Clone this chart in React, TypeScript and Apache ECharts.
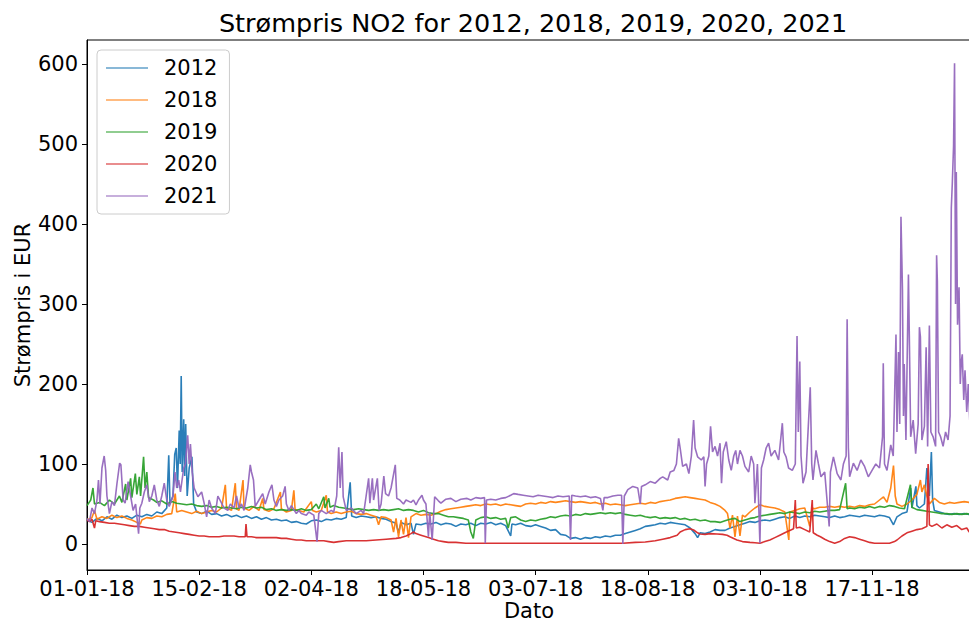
import React, { useEffect, useRef } from "react";
import * as echarts from "echarts";

const TITLE = "Strømpris NO2 for 2012, 2018, 2019, 2020, 2021";
const X_NAME = "Dato";
const Y_NAME = "Strømpris i EUR";
const seriesNames = ["2012", "2018", "2019", "2020", "2021"];
const seriesColors = ["#1f77b4", "#ff7f0e", "#2ca02c", "#d62728", "#9467bd"];
const xTickPos = [0, 45, 90, 135, 180, 225, 270, 315];
const xTickLabels = ["01-01-18", "15-02-18", "02-04-18", "18-05-18", "03-07-18", "18-08-18", "03-10-18", "17-11-18"];
const yTicks = [0, 100, 200, 300, 400, 500, 600];

const s2012 = [[0,30],[2,27],[4,32],[6,29],[8,34],[10,31],[12,36],[14,33],[16,35],[18,32],[20,36],[22,34],[24,37],[26,35],[28,40],[30,38],[32,45],[32.8,111],[33.3,50],[34.5,60],[35.2,112],[35.8,120],[36.3,70],[37,142],[37.4,100],[37.8,210],[38.2,90],[38.8,156],[39.2,85],[39.6,150],[40.2,60],[41,95],[42.1,109],[42.8,50],[44,40],[46,38],[48,41],[50,37],[52,38],[54,35],[56,37],[58,34],[60,36],[62,33],[64,35],[66,32],[68,34],[70,31],[72,33],[74,30],[76,31],[78,29],[80,30],[82,27],[84,28],[86,26],[88,25],[90,29],[92,30],[94,28],[96,31],[98,30],[100,32],[102,31],[104,33],[105.6,77],[106.2,35],[108,33],[110,35],[112,34],[114,33],[116,34],[118,32],[120,31],[122,28],[124,26],[125,14],[126,27],[128,24],[130,26],[131,12],[132,25],[134,24],[136,26],[138,25],[140,27],[142,24],[144,26],[146,25],[148,22],[150,25],[152,24],[154,26],[156,23],[158,26],[160,25],[162,27],[164,24],[166,26],[168,23],[170,10],[170.5,25],[172,24],[174,26],[176,23],[178,22],[180,24],[182,22],[184,20],[186,17],[188,18],[190,12],[192,11],[194,7],[196,8],[198,6],[200,8],[202,7],[204,9],[206,8],[208,10],[210,9],[212,11],[214,11],[216,13],[218,15],[220,17],[222,19],[224,22],[226,23],[228,24],[230,26],[232,25],[234,27],[236,26],[238,25],[240,24],[242,20],[244,13],[245,8],[246,14],[248,13],[250,15],[252,18],[254,17],[256,17],[258,20],[260,22],[262,24],[264,26],[266,28],[268,27],[270,29],[272,30],[274,29],[276,31],[278,33],[280,34],[282,32],[284,35],[286,33],[288,35],[290,34],[292,36],[294,35],[296,34],[298,33],[300,35],[302,33],[304,34],[306,36],[308,35],[310,34],[312,36],[314,35],[316,34],[318,36],[320,35],[322,33],[323.6,24],[325,34],[327,38],[329,40],[330.5,70],[331,45],[332.6,72],[333,48],[334,45],[336,50],[337,95],[338,60],[338.8,115],[339.3,55],[340,42],[342,40],[344,38],[346,37],[348,38],[350,37],[352,38],[354,37],[356,38]];

const s2018 = [[0,30],[2,33],[3,42],[4,31],[6,34],[8,32],[10,36],[12,33],[14,35],[16,32],[18,30],[20,27],[21.4,25],[22,30],[24,33],[26,32],[28,35],[30,34],[32,37],[34,38],[35.4,63],[36,40],[38,42],[40,40],[42,38],[44,41],[46,38],[48,40],[50,42],[52,40],[54,45],[55.5,74],[56,45],[58,42],[59.5,76],[60,44],[61,42],[62.6,80],[63,45],[65,42],[67,47],[69,42],[70.5,57],[71,43],[73,41],[75,44],[77.6,65],[78,44],[80,40],[82,42],[83,67],[83.5,43],[85,42],[87,40],[90,53],[90.5,42],[92,40],[94,42],[96,61],[96.5,40],[98,38],[100,40],[102,38],[104,40],[106,41],[108,38],[110,37],[112,38],[114,36],[116,34],[117,24],[118,34],[120,33],[122,30],[123,15],[124,32],[125,9],[126,30],[127,12],[128,33],[129,8],[130,34],[132,38],[134,36],[136,37],[138,36],[140,38],[142,41],[144,43],[146,44],[148,45],[150,46],[152,47],[154,48],[156,49],[158,48],[160,50],[162,49],[164,50],[166,48],[168,50],[170,49],[172,48],[174,47],[176,50],[178,51],[180,50],[182,52],[184,51],[186,53],[188,52],[190,53],[192,54],[194,53],[196,52],[198,53],[200,52],[202,51],[204,52],[206,50],[208,51],[210,49],[212,50],[214,49],[216,48],[218,49],[220,50],[222,51],[224,50],[226,52],[228,51],[230,53],[232,54],[234,55],[236,57],[238,58],[240,59],[242,58],[244,57],[246,56],[248,55],[250,52],[252,50],[254,47],[256,42],[257,38],[258,20],[259,36],[260,9],[261,35],[262,10],[263,36],[264,34],[266,40],[268,45],[270,49],[272,47],[274,46],[276,45],[278,43],[280,40],[281.6,5],[282,40],[284,42],[286,44],[288,45],[290,22],[291,45],[292,44],[294,46],[296,46],[298,47],[300,46],[302,47],[304,46],[306,47],[308,46],[310,48],[312,47],[314,49],[316,50],[318,55],[319.6,59],[321,52],[322.5,70],[323.6,98],[324.3,60],[325,50],[327,47],[329,50],[331,55],[333,62],[334.4,80],[335,65],[336,74],[337,60],[338,50],[340,57],[342,52],[344,50],[346,52],[348,51],[350,52],[352,53],[354,52],[356,53]];

const s2019 = [[0,48],[1.5,55],[2.4,70],[3,50],[5,52],[7,48],[9,55],[11,50],[13,60],[14,52],[15.5,75],[16,55],[17.5,82],[18,58],[19.4,88],[20,62],[21,84],[21.5,60],[22.7,109],[23.3,70],[24,90],[24.7,58],[26.7,55],[28,52],[30,54],[32,50],[34,53],[36,51],[38,50],[40,49],[42,50],[44,48],[46,47],[48,48],[50,46],[52,47],[54,45],[56,46],[58,45],[60,44],[62,46],[64,45],[66,47],[68,45],[70,46],[72,43],[74,44],[76,42],[78,43],[80,42],[82,43],[84,42],[86,44],[88,42],[90,43],[92,50],[93,44],[95,59],[95.5,45],[97,57],[97.5,46],[99,48],[101,46],[103,45],[105,44],[107,43],[109,44],[111,43],[113,42],[115,43],[117,42],[119,43],[121,42],[123,43],[125,44],[127,42],[129,43],[131,42],[133,40],[135,42],[137,39],[139,38],[141,38],[143,36],[145,34],[147,34],[149,33],[151,32],[153,30],[154,15],[155,7],[156,30],[158,33],[160,34],[162,32],[164,33],[166,31],[168,32],[169,20],[170,33],[172,34],[174,30],[176,28],[178,30],[180,29],[182,31],[184,32],[186,34],[188,33],[190,35],[192,36],[194,35],[196,37],[198,36],[200,38],[202,37],[204,38],[206,39],[208,38],[210,39],[212,38],[214,39],[216,37],[218,36],[220,35],[222,36],[224,34],[226,33],[228,34],[230,32],[232,33],[234,32],[236,33],[238,31],[240,32],[242,30],[244,31],[246,29],[248,30],[250,28],[252,28],[254,27],[256,29],[258,31],[260,32],[262,28],[264,30],[266,32],[268,33],[270,35],[272,36],[274,37],[276,38],[278,39],[280,38],[282,40],[284,39],[286,38],[288,40],[290,39],[292,41],[294,40],[296,41],[298,42],[300,42],[302,43],[304.4,76],[305,44],[306,45],[308,44],[310,46],[312,45],[314,47],[316,45],[318,47],[320,46],[322,48],[324,47],[326,45],[328,44],[330.4,74],[331,46],[333,43],[335,42],[337,41],[339,40],[341,39],[343,38],[345,38],[347,37],[349,38],[351,37],[353,38],[355,37]];

const s2020 = [[0,30],[1,28],[2,31],[3,20],[3.5,29],[5,28],[7,27],[9,26],[11,26],[13,25],[15,24],[17,23],[19,22],[21,22],[23,21],[25,20],[27,19],[29,18],[31,18],[33,16],[35,15],[37,14],[39,13],[41,12],[43,11],[45,10],[47,10],[49,9],[51,9],[53,9],[55,10],[57,10],[59,10],[61,9],[63.5,9],[63.8,25],[64.2,9],[66,9],[68,8],[70,8],[72,8],[74,8],[76,8],[78,7],[80,7],[82,6],[84,5],[86,5],[88,4],[90,4],[92,4],[95,4],[97,3],[99,2],[101,3],[104,4],[108,4],[112,4],[116,5],[120,6],[124,7],[126,8],[128,10],[130,13],[131,15],[132,13],[134,11],[135,10],[137,8],[139,6],[141,4],[143,3],[145,2],[148,2],[152,1],[156,1],[160,1],[165,1],[170,1],[175,1],[180,1],[190,1],[200,1],[210,1],[215,1],[220,2],[224,2.5],[228,4],[231,6],[234,8],[236.8,11],[238,15],[240,18],[242,19],[243.4,17.5],[245,14],[246,12.5],[248,12],[250,13],[252.8,12.5],[255,12],[256.8,11],[258,9],[260.8,5],[263,3],[266,2],[268,1.5],[270,1],[272,3],[274,5],[276,8],[278,11],[280,14],[282,17],[283.5,19],[284.2,55],[284.6,20],[286,21],[288,18],[290,15],[291,55],[291.4,14],[293,11],[294.3,9],[296,6],[298,3],[300,1],[302,3],[304,7],[306,9],[308,8],[310,6],[312,4],[314,2],[316,1],[318,1],[320,1],[322,1],[324,3],[325,5],[327,10],[329,14],[331,16],[333,18],[335,19],[337,22],[337.5,100],[338,24],[339,22],[341,25],[343,20],[345,24],[347,21],[349,23],[351,18],[353,20],[354,15],[356,18]];

const s2021 = [[0,32],[1,28],[2,45],[3,38],[4,55],[4.6,80],[5.2,50],[6,95],[6.9,110],[7.5,92],[8,60],[9,38],[10,53],[11,48],[12,75],[13.1,101],[13.6,99],[14.5,55],[15.3,51],[16.5,78],[17.5,60],[18.5,42],[19.5,50],[20.7,13],[21.2,45],[22,51],[23,65],[24,74],[25,53],[26,60],[27,74],[28,55],[29,47],[30,60],[31,76],[32,55],[33,47],[34.5,60],[35.3,90],[36,70],[36.8,80],[37.5,65],[38.8,95],[39.5,100],[40.4,136],[41,100],[41.5,125],[42.2,90],[43,70],[44.5,59],[46,65],[47,51],[48,34],[49,55],[50,45],[51.5,38],[52.5,60],[54,51],[55,45],[56.5,42],[57.5,50],[59,45],[60,60],[61,45],[62,50],[63,42],[64.5,70],[65.5,99],[66,90],[66.8,80],[67.5,47],[69,55],[70.5,63],[71.5,50],[73,65],[74.2,74],[75,55],[76,47],[77,55],[78.5,60],[79.5,72],[80,50],[81,42],[82,48],[84,38],[85,42],[86,38],[88,36],[89,40],[90,38],[91,36],[92.3,3],[93,38],[94,42],[96,38],[98,42],[99,40],[100.2,60],[101,121],[101.6,70],[102.3,115],[102.8,59],[104,42],[106,45],[108,38],[110,42],[111,38],[112,60],[113,82],[113.5,51],[114.5,82],[115,55],[116.5,82],[117.2,42],[118,50],[119.1,85],[119.8,63],[121,60],[122,70],[123.7,99],[124.3,57],[125.5,55],[127,50],[128,55],[130,52],[131,55],[132,49],[133,55],[134.4,61],[135,55],[136,50],[137,9],[137.5,40],[138.5,5],[139.5,59],[141,54],[142,51],[144,56],[146,57],[148,53],[150,56],[152.5,57],[154,55],[156,58],[158,57],[159.5,58],[159.8,1],[160.3,55],[162,56],[164,55],[166,57],[168,58],[170,61],[171.2,63],[173,62],[175,61],[177,60],[179,59],[181,61],[183,60],[185,59],[187,58],[189,60],[191,59],[193.5,60],[194,5],[194.5,61],[196,60],[198,59],[200,60],[202,58],[204,59],[206,57],[207,42],[207.5,58],[209,58],[211,60],[213,61],[214.5,61],[215,0],[215.6,60],[217,68],[219,72],[221,70],[222,50],[222.5,72],[224,74],[226,78],[228,76],[230,82],[231,84],[233,80],[234,90],[235.5,92],[236.5,100],[237.4,132],[238,120],[239,97],[240.5,100],[241.5,88],[242.5,110],[243.4,155],[244,120],[245,109],[246.5,105],[247.5,109],[248,72],[248.6,100],[249.5,110],[250.2,147],[251,115],[252,122],[253,110],[254,126],[254.6,76],[255.3,115],[256.5,128],[257.5,105],[258.5,92],[259.5,110],[260.3,117],[261,100],[262,117],[263,110],[264,97],[265.5,90],[266.5,110],[267.5,100],[268,51],[269,100],[270,1],[270.6,95],[271.5,105],[272.5,120],[273.5,126],[274.5,110],[276,117],[277.5,105],[279,151],[279.6,115],[280.5,109],[281.5,95],[283,92],[284.2,100],[284.9,260],[285.4,140],[286,228],[286.5,110],[287.3,76],[288.5,90],[290.2,196],[290.8,100],[291.3,80],[292.5,117],[293.5,100],[294.5,84],[296,90],[297.8,22],[298.3,90],[299.5,109],[301,88],[302.5,80],[303.5,100],[304.6,110],[305,281],[305.5,120],[306,84],[307.5,101],[309,92],[310.5,105],[312,97],[313.5,84],[315,92],[316.5,100],[318,95],[319.2,134],[319.5,226],[320,100],[321,92],[322.5,124],[323.5,110],[324.6,262],[325,140],[325.6,240],[326.1,150],[326.6,409],[327.2,318],[327.6,160],[327.9,225],[328.6,130],[329.6,337],[330,249],[330.5,134],[331.5,155],[332.5,113],[333.5,150],[334,271],[334.4,259],[335,130],[336,147],[336.7,246],[337.3,122],[338,273],[338.6,140],[339.5,134],[340.5,122],[340.9,361],[341.2,329],[341.7,140],[342.5,134],[343.5,122],[344.5,140],[345.5,130],[346.3,160],[346.8,420],[347.2,451],[347.7,497],[348.1,601],[348.5,300],[348.8,465],[349.3,274],[349.9,321],[350.4,200],[350.8,228],[351.2,237],[351.8,180],[352.3,217],[353,165],[353.6,200],[354.2,155],[355,215],[356,170]];

const seriesData = [s2012, s2018, s2019, s2020, s2021];

const FONT = "DejaVu Sans";

export default function App() {
  const ref = useRef<HTMLDivElement>(null);
  useEffect(() => {
    if (!ref.current) return;
    const chart = echarts.init(ref.current, null, { renderer: "svg" });
    const option = {
      animation: false,
      backgroundColor: "#ffffff",
      title: {
        text: TITLE,
        left: 533,
        top: 10,
        textAlign: "center",
        padding: 0,
        textStyle: { fontFamily: FONT, fontSize: 25.5, fontWeight: "normal", color: "#000" },
      },
      graphic: [
        {
          type: "text",
          x: 529,
          y: 611,
          silent: true,
          style: {
            text: X_NAME,
            textAlign: "center",
            textVerticalAlign: "middle",
            fontFamily: FONT,
            fontSize: 21,
            lineHeight: 20,
            fill: "#000",
          },
        },
      ],
      legend: {
        orient: "vertical",
        left: 97,
        top: 50,
        data: seriesNames,
        icon: "rect",
        itemWidth: 42,
        itemHeight: 1.6,
        itemGap: 10,
        padding: [7, 12, 7, 9],
        borderColor: "#cccccc",
        borderWidth: 1,
        borderRadius: 4,
        backgroundColor: "rgba(255,255,255,0.8)",
        itemStyle: { opacity: 0.7 },
        textStyle: { fontFamily: FONT, fontSize: 21, color: "#000", lineHeight: 22, padding: [0, 0, 0, 11] },
      },
      grid: {
        left: 87,
        top: 40,
        right: -1,
        bottom: 52,
        containLabel: false,
        outerBoundsMode: "none",
        show: true,
        borderColor: "#000",
        borderWidth: 1,
        backgroundColor: "transparent",
      },
      xAxis: {
        type: "value",
        min: 0,
        max: 354.3,
        axisLine: { show: true, onZero: false, lineStyle: { color: "#000", width: 1 } },
        axisTick: { show: true, length: 5, lineStyle: { color: "#000" }, customValues: xTickPos },
        axisLabel: {
          customValues: xTickPos,
          margin: 9,
          fontFamily: FONT,
          fontSize: 21,
          lineHeight: 20,
          color: "#000",
          formatter: (v: number) => {
            const i = xTickPos.indexOf(v);
            return i >= 0 ? xTickLabels[i] : "";
          },
        },
        splitLine: { show: false },
      },
      yAxis: {
        type: "value",
        min: -32.5,
        max: 630,
        name: Y_NAME,
        nameLocation: "middle",
        nameGap: 54,
        nameMoveOverlap: false,
        nameTextStyle: { fontFamily: FONT, fontSize: 21, color: "#000" },
        axisLine: { show: true, onZero: false, lineStyle: { color: "#000", width: 1 } },
        axisTick: { show: true, length: 5, lineStyle: { color: "#000" }, customValues: yTicks },
        axisLabel: { customValues: yTicks, margin: 9, fontFamily: FONT, fontSize: 21, color: "#000" },
        splitLine: { show: false },
      },
      series: seriesNames.map((name, i) => ({
        name,
        type: "line",
        data: seriesData[i],
        symbol: "none",
        showSymbol: false,
        clip: true,
        silent: true,
        color: seriesColors[i],
        itemStyle: { color: seriesColors[i] },
        lineStyle: { color: seriesColors[i], width: 1.6, opacity: 0.95 },
      })),
    };
    chart.setOption(option as any);
    return () => chart.dispose();
  }, []);
  return (
    <div
      ref={ref}
      style={{ position: "fixed", left: 0, top: 0, width: "969px", height: "622px", background: "#fff" }}
    />
  );
}
